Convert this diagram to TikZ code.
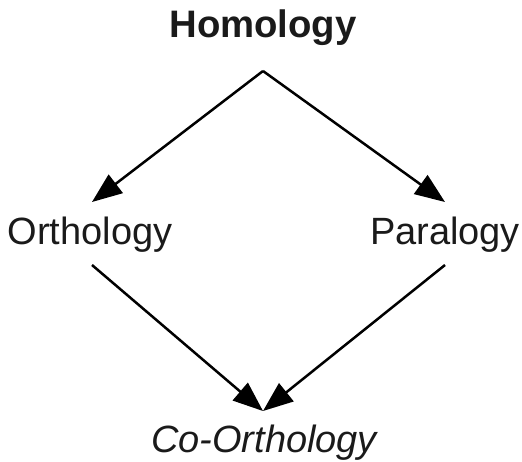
\documentclass[tikz,border=0pt]{standalone}
\usepackage{fontspec}
\setmainfont{Liberation Sans}
\usepackage{xcolor}
\usetikzlibrary{positioning, arrows.meta}

\definecolor{textgray}{HTML}{1A1A1A}

\begin{document}
\begin{tikzpicture}[x=1pt, y=-1pt,
    term/.style={text=textgray, anchor=base, inner sep=0pt, font=\fontsize{38}{40}\selectfont},
    link/.style={line width=2.5pt, -{Triangle[length=30pt, width=23pt]}}]
                    \useasboundingbox (0, 0) rectangle (522, 461);

                    \node[term, font=\fontsize{38.3}{40}\selectfont\bfseries] (hom) at (263, 37) {Homology};
                    \node[term] (orth) at (90, 244) {Orthology};
                    \node[term] (para) at (445, 244) {Paralogy};
                    \node[term, font=\fontsize{38}{40}\selectfont\itshape] (coorth) at (264, 452) {Co-Orthology};

                    \coordinate (top) at (263, 71);
                    \coordinate (orthin) at (92, 202);
                    \coordinate (parain) at (445, 202);
                    \coordinate (orthout) at (92, 265);
                    \coordinate (paraout) at (445, 265);
                    \coordinate (bottom) at (263, 411);

                    \draw[link] (top) -- (orthin);
                    \draw[link] (top) -- (parain);
                    \draw[link] (orthout) -- (bottom);
                    \draw[link] (paraout) -- (bottom);
                \end{tikzpicture}
\end{document}
